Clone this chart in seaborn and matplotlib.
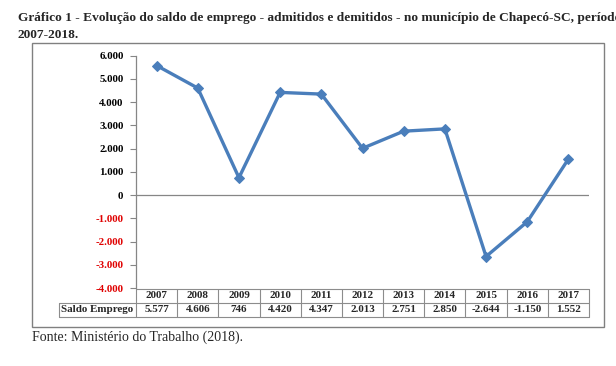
import matplotlib
matplotlib.use("Agg")
import matplotlib.pyplot as plt
import seaborn as sns
import numpy as np
from matplotlib.patches import Rectangle
from matplotlib.lines import Line2D

# data
years = ["2007", "2008", "2009", "2010", "2011", "2012", "2013", "2014", "2015", "2016", "2017"]
saldo = [5577, 4606, 746, 4420, 4347, 2013, 2751, 2850, -2644, -1150, 1552]
yticks = [-4000, -3000, -2000, -1000, 0, 1000, 2000, 3000, 4000, 5000, 6000]
row_label = "Saldo Emprego"

title = ("Gráfico 1 - Evolução do saldo de emprego - admitidos e demitidos - "
         "no município de Chapecó-SC, período\n2007-2018.")
source = "Fonte: Ministério do Trabalho (2018)."


def br(v):
    # thousands separator with a dot
    return f"{v:,}".replace(",", ".")


sns.set_style("white")
plt.rcParams["font.family"] = ["Liberation Serif", "DejaVu Serif"]

W, H = 616, 366
fig = plt.figure(figsize=(W / 100, H / 100), dpi=100)


def fx(px):
    return px / W


def fy(py):
    return 1 - py / H


def hline(x0, x1, y, **kw):
    fig.add_artist(Line2D([fx(x0), fx(x1)], [fy(y), fy(y)], transform=fig.transFigure, **kw))


def vline(x, y0, y1, **kw):
    fig.add_artist(Line2D([fx(x), fx(x)], [fy(y0), fy(y1)], transform=fig.transFigure, **kw))


# outer chart frame
fig.patches.append(Rectangle((fx(32), fy(327)), (604 - 32) / W, (327 - 43) / H,
                             transform=fig.transFigure, fill=False,
                             edgecolor="#808080", linewidth=1.0))

left, right, top, bottom = 136, 589, 55.7, 288
ax = fig.add_axes([fx(left), fy(bottom), (right - left) / W, (bottom - top) / H])

x = np.arange(len(years))
sns.lineplot(x=x, y=saldo, ax=ax, color="#4A7EBB", linewidth=2.4,
             marker="D", markersize=5.5, markeredgecolor="#4A7EBB")

ax.set_xlim(-0.5, len(years) - 0.5)
ax.set_ylim(-4000, 6000)
ax.set_yticks(yticks)
ax.set_yticklabels([br(v) for v in yticks], fontsize=7.8, fontweight="bold")
for lbl, v in zip(ax.get_yticklabels(), yticks):
    lbl.set_color("#E00000" if v < 0 else "black")
ax.set_xticks([])
ax.axhline(0, color="#868686", linewidth=0.9, zorder=0)
ax.tick_params(axis="y", length=4, width=0.8, color="#868686", pad=5, left=True)
for s in ["top", "right", "bottom"]:
    ax.spines[s].set_visible(False)
ax.spines["left"].set_color("#868686")
ax.spines["left"].set_linewidth(0.9)

# data table below the plot (drawn by hand)
t_top, t_mid, t_bot = 289, 303, 317
lab_left = 59
col_w = (right - left) / len(years)
grid = dict(color="#8C8C8C", linewidth=0.8)
hline(left, right, t_top, **grid)
hline(lab_left, right, t_mid, **grid)
hline(lab_left, right, t_bot, **grid)
vline(lab_left, t_mid, t_bot, **grid)
for i in range(len(years) + 1):
    vline(left + i * col_w, t_top, t_bot, **grid)
cell_txt = dict(fontsize=7.9, fontweight="bold", ha="center", va="center")
for i, (yr, v) in enumerate(zip(years, saldo)):
    cx = fx(left + (i + 0.5) * col_w)
    fig.text(cx, fy((t_top + t_mid) / 2), yr, **cell_txt)
    fig.text(cx, fy((t_mid + t_bot) / 2), br(v), **cell_txt)
fig.text(fx((lab_left + left) / 2), fy((t_mid + t_bot) / 2), row_label, **cell_txt)

fig.text(fx(18), fy(12), title, fontsize=9.6, fontweight="bold",
         va="top", ha="left", linespacing=1.5)
fig.text(fx(32), fy(337), source, fontsize=10, va="center", ha="left")

fig.savefig("out.png", dpi=100)
